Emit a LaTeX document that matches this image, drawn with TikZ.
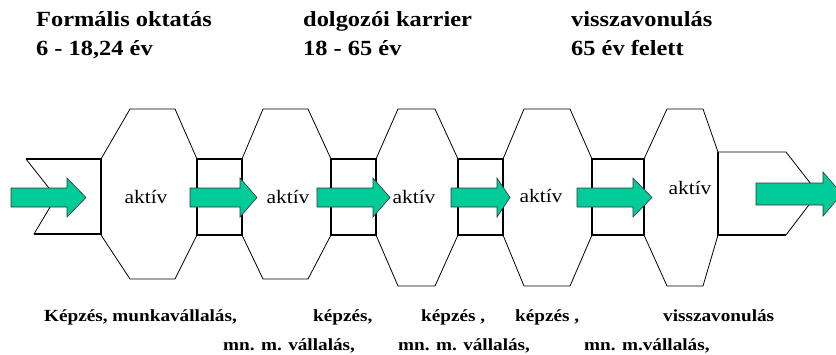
\documentclass[tikz,border=0pt]{standalone}
\usepackage{fontspec}
\setmainfont[FakeStretch=1.13]{Liberation Serif}
\usepackage{xcolor}
\usepackage{tikz}

\definecolor{arrowgreen}{RGB}{0,204,153}

\tikzset{
	thinline/.style={line width=0.8pt},
	boxline/.style={line width=1.7pt},
	grarrow/.style={draw=black!80, line width=0.6pt, fill=arrowgreen},
	titletext/.style={anchor=base west, inner sep=0pt, font=\fontsize{21.6}{24}\selectfont\bfseries},
	phasetext/.style={anchor=base west, inner sep=0pt, font=\fontsize{17}{20}\selectfont\bfseries},
	activetext/.style={inner sep=0pt, font=\fontsize{19}{22}\selectfont}
}

\begin{document}
\begin{tikzpicture}[x=1pt,y=-1pt]
		\useasboundingbox (0,0) rectangle (836,354);
		\clip (0,0) rectangle (836,354);
		
		% headings
		\node[titletext] (formal) at (36,26) {Formális oktatás};
		\node[titletext] (formalage) at (36,55) {6 - 18,24 év};
		\node[titletext] (career) at (303,26) {dolgozói karrier};
		\node[titletext] (careerage) at (303,55) {18 - 65 év};
		\node[titletext] (retire) at (571,26) {visszavonulás};
		\node[titletext] (retireage) at (571,55) {65 év felett};
		
		% left chevron
		\draw[boxline] (26,159) -- (101,159) -- (101,234) -- (34,234);
		\draw[thinline] (26,159) -- (56,197) -- (34,234);
		
		% octagons
		\foreach \l/\r/\a/\b/\bot in {101/197/130/175/279, 242/331/263/308/279, 376/458/398/435/286, 503/592/524/570/286}{
			\draw[thinline] (\l,159) -- (\a,109) -- (\b,109) -- (\r,159) -- (\r,235) -- (\b,\bot) -- (\a,\bot) -- (\l,235) -- cycle;
		}
		\draw[thinline] (644,159) -- (667,109) -- (703,109) -- (718,152) -- (718,235) -- (703,286) -- (667,286) -- (644,235) -- cycle;
		
		% boxes between
		\foreach \l/\r in {197/242, 331/376, 458/503, 592/644}{
			\draw[boxline] (\l,159) rectangle (\r,235);
		}
		
		% right chevron
		\draw[boxline] (718,152) -- (718,235) -- (786,235);
		\draw[thinline] (718,152) -- (786,152) -- (818,193) -- (786,235);
		
		% arrows
		\foreach \s/\h/\t in {11/67/86, 190/240/257, 317/373/390, 451/497/510, 577/633/652}{
			\draw[grarrow] (\s,188) -- (\h,188) -- (\h,178) -- (\t,197.5) -- (\h,217) -- (\h,207) -- (\s,207) -- cycle;
		}
		\draw[grarrow] (756,183) -- (823,183) -- (823,172) -- (842,194) -- (823,216) -- (823,205) -- (756,205) -- cycle;
		
		\node[activetext] (akt1) at (146,197) {aktív};
		\node[activetext] (akt2) at (288,197) {aktív};
		\node[activetext] (akt3) at (414,197) {aktív};
		\node[activetext] (akt4) at (541,196) {aktív};
		\node[activetext] (akt5) at (690,188) {aktív};
		
		% bottom texts
		\node[phasetext] (learn1) at (44,321) {Képzés, munkavállalás,};
		\node[phasetext] (learn2) at (313,321) {képzés,};
		\node[phasetext] (learn3) at (421,321) {képzés ,};
		\node[phasetext] (learn4) at (515,321) {képzés ,};
		\node[phasetext] (retired) at (663,321) {visszavonulás};
		\node[phasetext] (work1) at (223,350) {mn. m. vállalás,};
		\node[phasetext] (work2) at (398,350) {mn. m. vállalás,};
		\node[phasetext] (work3) at (584,350) {mn. m.vállalás,};
\end{tikzpicture}
\end{document}
